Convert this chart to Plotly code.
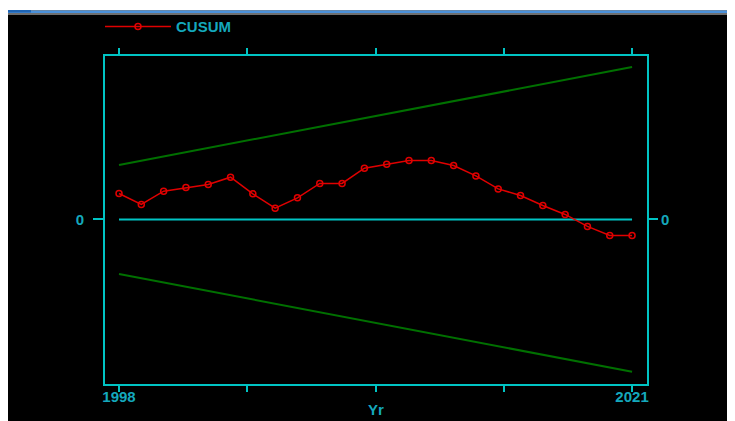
import plotly.graph_objects as go

years = list(range(1998, 2022))
cusum = [2.6, 1.5, 2.83, 3.2, 3.5, 4.23, 2.56, 1.13, 2.16, 3.6, 3.6, 5.13,
         5.53, 5.9, 5.9, 5.4, 4.36, 3.06, 2.4, 1.4, 0.5, -0.7, -1.6, -1.6]
bound_years = [1998, 2021]
upper_bound = [5.45, 15.25]
lower_bound = [-5.45, -15.25]
zero_years = [1998, 2021]
zero_vals = [0, 0]
x_tickvals = [1998, 2003.75, 2009.5, 2015.25, 2021]
x_ticktext = ["<b>1998</b>", "", "", "", "<b>2021</b>"]

CYAN = "#00C4C4"
TXT = "#14A8BC"
RED = "#E00000"
GREEN = "#007000"
FAM = "Liberation Sans, Arial, sans-serif"
FONT = dict(family=FAM, size=15, color=TXT)

# page is offset by the 8px body margin; figure coords = page coords - 8
OFF = 8
W, H = 735 - OFF, 421 - OFF
L, R, T, B = 105 - OFF, 88, 56 - OFF, 37
pw, ph = W - L - R, H - T - B


def px(x):  # page x -> paper
    return (x - OFF - L) / pw


def py(y):  # page y -> paper
    return (H - B - (y - OFF)) / ph


fig = go.Figure()
fig.add_trace(go.Scatter(x=bound_years, y=upper_bound, mode="lines",
                         line=dict(color=GREEN, width=2), showlegend=False))
fig.add_trace(go.Scatter(x=bound_years, y=lower_bound, mode="lines",
                         line=dict(color=GREEN, width=2), showlegend=False))
fig.add_trace(go.Scatter(x=zero_years, y=zero_vals, mode="lines",
                         line=dict(color=CYAN, width=2), showlegend=False))
fig.add_trace(go.Scatter(x=years, y=cusum, mode="lines+markers", name="<b>CUSUM</b>",
                         line=dict(color=RED, width=1.5),
                         marker=dict(symbol="circle-open", size=6, color=RED,
                                     line=dict(width=1.5, color=RED))))
fig.add_trace(go.Scatter(x=[1998], y=[0], yaxis="y2", mode="markers",
                         marker=dict(opacity=0), showlegend=False, hoverinfo="skip"))

yr = [-16.47, 16.36]
shapes = [
    dict(type="rect", xref="paper", yref="paper", x0=px(0), x1=px(740), y0=py(10.5), y1=py(0),
         fillcolor="white", line=dict(width=0), layer="above"),
    dict(type="rect", xref="paper", yref="paper", x0=px(0), x1=px(740), y0=py(13), y1=py(10.5),
         fillcolor="#4A90D9", line=dict(width=0), layer="above"),
    dict(type="rect", xref="paper", yref="paper", x0=px(0), x1=px(31), y0=py(12.5), y1=py(10),
         fillcolor="#1E64B4", line=dict(width=0), layer="above"),
    dict(type="rect", xref="paper", yref="paper", x0=px(0), x1=px(740), y0=py(15), y1=py(13),
         fillcolor="#6E6E6E", line=dict(width=0), layer="above"),
]

fig.update_layout(
    width=W, height=H,
    margin=dict(l=L, r=R, t=T, b=B, autoexpand=False),
    paper_bgcolor="black", plot_bgcolor="black",
    font=FONT,
    shapes=shapes,
    showlegend=True,
    legend=dict(x=px(100), y=py(26.7), xanchor="left", yanchor="middle",
                bgcolor="rgba(0,0,0,0)", font=dict(family=FAM, size=15, color=TXT),
                itemwidth=66),
    xaxis=dict(range=[1997.372, 2021.67], tickvals=x_tickvals, ticktext=x_ticktext,
               ticks="outside", ticklen=6, tickwidth=2, tickcolor=CYAN,
               showline=True, linecolor=CYAN, linewidth=2, mirror="ticks",
               showgrid=False, zeroline=False, automargin=False, ticklabelstandoff=-8,
               tickfont=dict(family=FAM, size=15, color=TXT),
               title=dict(text="<b>Yr</b>", standoff=0,
                          font=dict(family=FAM, size=15, color=TXT))),
    yaxis=dict(range=yr, tickvals=[0], ticktext=["<b>0</b>"],
               ticks="outside", ticklen=10, tickwidth=2, tickcolor=CYAN,
               showline=True, linecolor=CYAN, linewidth=2, mirror=True,
               showgrid=False, zeroline=False, ticklabelstandoff=6, automargin=False,
               tickfont=dict(family=FAM, size=15, color=TXT)),
    yaxis2=dict(range=yr, overlaying="y", side="right", tickvals=[0], ticktext=["<b>0</b>"],
                ticks="outside", ticklen=10, tickwidth=2, tickcolor=CYAN,
                showline=False, showgrid=False, zeroline=False, automargin=False,
                tickfont=dict(family=FAM, size=15, color=TXT)),
)

fig.write_html("out.html")
